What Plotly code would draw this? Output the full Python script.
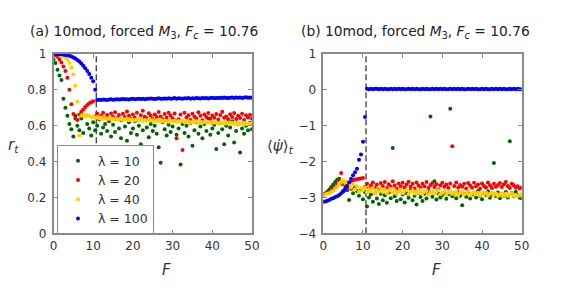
import plotly.graph_objects as go

# Forcing amplitude grid (shared by all series)
F = [0.0, 0.5, 1.0, 1.5, 2.0, 2.5, 3.0, 3.5, 4.0, 4.5,
     5.0, 5.5, 6.0, 6.5, 7.0, 7.5, 8.0, 8.5, 9.0, 9.5,
     10.0, 10.5, 11.0, 11.5, 12.0, 12.5, 13.0, 13.5, 14.0, 14.5,
     15.0, 15.5, 16.0, 16.5, 17.0, 17.5, 18.0, 18.5, 19.0, 19.5,
     20.0, 20.5, 21.0, 21.5, 22.0, 22.5, 23.0, 23.5, 24.0, 24.5,
     25.0, 25.5, 26.0, 26.5, 27.0, 27.5, 28.0, 28.5, 29.0, 29.5,
     30.0, 30.5, 31.0, 31.5, 32.0, 32.5, 33.0, 33.5, 34.0, 34.5,
     35.0, 35.5, 36.0, 36.5, 37.0, 37.5, 38.0, 38.5, 39.0, 39.5,
     40.0, 40.5, 41.0, 41.5, 42.0, 42.5, 43.0, 43.5, 44.0, 44.5,
     45.0, 45.5, 46.0, 46.5, 47.0, 47.5, 48.0, 48.5, 49.0, 49.5,
     50.0]

F_c = 10.76
labels = ["λ = 10", "λ = 20", "λ = 40", "λ = 100"]
colors = ["#006400", "#ff0000", "#ffd000", "#0000ff"]

# (a) order parameter r_t
r_l10 = [0.970, 0.950, 0.912, 0.880, 0.855, 0.750, 0.700, 0.655, 0.610, 0.580,
         0.540, 0.655, 0.600, 0.575, 0.640, 0.560, 0.470, 0.610, 0.585, 0.545,
         0.620, 0.575, 0.600, 0.635, 0.555, 0.590, 0.610, 0.570, 0.625, 0.540,
         0.605, 0.565, 0.640, 0.585, 0.530, 0.440, 0.595, 0.516, 0.620, 0.560,
         0.585, 0.625, 0.550, 0.600, 0.496, 0.575, 0.645, 0.590, 0.535, 0.610,
         0.570, 0.600, 0.555, 0.480, 0.393, 0.620, 0.580, 0.545, 0.605, 0.565,
         0.595, 0.630, 0.550, 0.585, 0.384, 0.610, 0.560, 0.600, 0.540, 0.615,
         0.488, 0.575, 0.620, 0.555, 0.595, 0.530, 0.610, 0.570, 0.640, 0.550,
         0.585, 0.605, 0.470, 0.560, 0.615, 0.580, 0.496, 0.600, 0.545, 0.590,
         0.625, 0.507, 0.570, 0.610, 0.450, 0.585, 0.555, 0.600, 0.575, 0.615,
         0.580]
r_l20 = [0.998, 0.993, 0.984, 0.970, 0.952, 0.930, 0.905, 0.868, 0.800, 0.720,
         0.665, 0.640, 0.632, 0.662, 0.678, 0.690, 0.705, 0.716, 0.725, 0.731,
         0.736, 0.652, 0.668, 0.640, 0.655, 0.672, 0.645, 0.660, 0.637, 0.668,
         0.650, 0.675, 0.642, 0.660, 0.631, 0.667, 0.648, 0.680, 0.655, 0.638,
         0.662, 0.645, 0.672, 0.633, 0.658, 0.684, 0.650, 0.641, 0.669, 0.655,
         0.637, 0.663, 0.648, 0.676, 0.652, 0.634, 0.666, 0.645, 0.672, 0.657,
         0.641, 0.668, 0.530, 0.636, 0.662, 0.464, 0.673, 0.646, 0.658, 0.632,
         0.667, 0.650, 0.640, 0.675, 0.655, 0.630, 0.662, 0.648, 0.671, 0.639,
         0.657, 0.644, 0.666, 0.634, 0.660, 0.678, 0.645, 0.652, 0.636, 0.664,
         0.649, 0.671, 0.638, 0.655, 0.643, 0.667, 0.632, 0.658, 0.646, 0.661,
         0.640]
r_l40 = [1.000, 0.999, 0.998, 0.996, 0.993, 0.988, 0.980, 0.968, 0.950, 0.925,
         0.885, 0.825, 0.735, 0.545, 0.655, 0.662, 0.650, 0.660, 0.655, 0.648,
         0.650, 0.644, 0.648, 0.640, 0.646, 0.638, 0.643, 0.637, 0.642, 0.636,
         0.640, 0.634, 0.639, 0.632, 0.637, 0.631, 0.636, 0.640, 0.630, 0.635,
         0.633, 0.629, 0.636, 0.630, 0.634, 0.627, 0.632, 0.628, 0.635, 0.629,
         0.631, 0.625, 0.630, 0.627, 0.633, 0.624, 0.629, 0.626, 0.622, 0.628,
         0.625, 0.629, 0.621, 0.627, 0.623, 0.628, 0.620, 0.625, 0.622, 0.618,
         0.624, 0.619, 0.625, 0.617, 0.622, 0.618, 0.623, 0.616, 0.620, 0.615,
         0.621, 0.616, 0.619, 0.613, 0.618, 0.614, 0.620, 0.612, 0.617, 0.613,
         0.616, 0.611, 0.615, 0.609, 0.614, 0.610, 0.616, 0.608, 0.613, 0.609,
         0.611]
r_l100 = [1.000, 1.000, 0.999, 0.999, 0.998, 0.997, 0.995, 0.993, 0.990, 0.986,
          0.981, 0.975, 0.967, 0.958, 0.947, 0.935, 0.920, 0.905, 0.888, 0.868,
          0.848, 0.800, 0.744, 0.745, 0.743, 0.746, 0.745, 0.744, 0.746, 0.747,
          0.745, 0.746, 0.748, 0.746, 0.747, 0.749, 0.747, 0.748, 0.746, 0.749,
          0.750, 0.748, 0.749, 0.751, 0.749, 0.750, 0.748, 0.751, 0.750, 0.752,
          0.750, 0.749, 0.751, 0.753, 0.751, 0.750, 0.752, 0.751, 0.753, 0.750,
          0.752, 0.754, 0.751, 0.753, 0.752, 0.750, 0.753, 0.752, 0.754, 0.751,
          0.753, 0.752, 0.755, 0.753, 0.752, 0.754, 0.753, 0.755, 0.752, 0.754,
          0.756, 0.753, 0.755, 0.754, 0.756, 0.754, 0.757, 0.755, 0.754, 0.756,
          0.758, 0.755, 0.757, 0.756, 0.758, 0.755, 0.757, 0.759, 0.756, 0.757,
          0.756]

# (b) mean phase velocity <psi_dot>_t
p_l10 = [-2.92, -2.89, -2.84, -2.78, -2.71, -2.64, -2.57, -2.51, -2.48, -2.62,
         -2.84, -2.66, -2.80, -3.07, -2.76, -2.88, -2.72, -2.82, -2.95, -2.78,
         -3.05, -2.85, -3.25, -3.00, -2.92, -3.12, -2.88, -3.03, -3.18, -2.90,
         -3.08, -2.94, -3.15, -2.86, -3.02, -1.62, -2.97, -3.10, -2.83, -3.05,
         -2.92, -3.14, -2.88, -3.01, -2.79, -3.08, -2.95, -3.20, -2.87, -2.99,
         -3.10, -2.90, -3.03, -2.84, -0.74, -2.98, -2.55, -3.06, -2.89, -3.00,
         -2.93, -2.86, -3.04, -2.91, -0.53, -2.97, -2.88, -3.02, -2.85, -2.95,
         -3.22, -2.90, -2.98, -2.84, -3.03, -2.92, -2.87, -3.00, -2.82, -2.96,
         -3.05, -2.89, -2.94, -2.83, -3.01, -2.91, -2.04, -2.97, -2.86, -3.02,
         -2.90, -2.95, -2.85, -3.00, -1.43, -2.88, -2.96, -2.84, -2.93, -3.01,
         -3.02]
p_l20 = [-2.91, -2.90, -2.88, -2.85, -2.82, -2.78, -2.72, -2.64, -2.52, -2.32,
         -2.62, -2.80, -2.72, -2.58, -2.55, -2.52, -2.50, -2.49, -2.48, -2.47,
         -2.46, -2.70, -2.62, -2.75, -2.66, -2.58, -2.72, -2.64, -2.78, -2.60,
         -2.68, -2.57, -2.74, -2.63, -2.70, -2.55, -2.66, -2.76, -2.61, -2.69,
         -2.59, -2.72, -2.64, -2.56, -2.70, -2.62, -2.75, -2.58, -2.67, -2.73,
         -2.62, -2.69, -2.57, -2.74, -2.65, -2.60, -2.71, -2.63, -2.77, -2.66,
         -2.59, -2.70, -2.64, -2.73, -2.61, -1.57, -2.68, -2.58, -2.72, -2.65,
         -2.70, -2.62, -2.75, -2.60, -2.67, -2.73, -2.59, -2.69, -2.64, -2.76,
         -2.61, -2.68, -2.72, -2.58, -2.66, -2.74, -2.62, -2.70, -2.65, -2.60,
         -2.71, -2.63, -2.57, -2.68, -2.74, -2.62, -2.66, -2.72, -2.69, -2.75,
         -2.72]
p_l40 = [-2.93, -2.92, -2.90, -2.88, -2.85, -2.81, -2.76, -2.70, -2.63, -2.57,
         -2.52, -2.60, -2.56, -2.66, -2.72, -2.63, -2.78, -2.69, -2.84, -2.74,
         -2.80, -2.72, -2.86, -2.77, -2.83, -2.74, -2.88, -2.79, -2.84, -2.76,
         -2.85, -2.78, -2.89, -2.81, -2.76, -2.87, -2.80, -2.90, -2.83, -2.78,
         -2.88, -2.82, -2.79, -2.91, -2.84, -2.80, -2.89, -2.83, -2.86, -2.79,
         -2.90, -2.84, -2.81, -2.92, -2.86, -2.83, -2.89, -2.85, -2.80, -2.91,
         -2.87, -2.83, -2.93, -2.86, -2.82, -2.90, -2.88, -2.84, -2.93, -2.87,
         -2.85, -2.92, -2.88, -2.83, -2.94, -2.89, -2.86, -2.91, -2.87, -2.95,
         -2.88, -2.92, -2.86, -2.95, -2.90, -2.87, -2.93, -2.89, -2.96, -2.91,
         -2.88, -2.94, -2.90, -2.96, -2.92, -2.89, -2.95, -2.93, -2.97, -2.91,
         -2.94]
p_l100 = [-3.12, -3.11, -3.09, -3.07, -3.04, -3.02, -2.99, -2.97, -2.93, -2.88,
          -2.82, -2.76, -2.68, -2.58, -2.48, -2.38, -2.30, -2.20, -1.95, -1.80,
          -1.45, -0.76, 0.03, 0.02, 0.03, 0.02, 0.03, 0.03, 0.02, 0.03,
          0.02, 0.03, 0.02, 0.02, 0.03, 0.02, 0.03, 0.02, 0.03, 0.02,
          0.03, 0.02, 0.02, 0.03, 0.02, 0.03, 0.02, 0.03, 0.02, 0.02,
          0.03, 0.02, 0.03, 0.02, 0.02, 0.03, 0.02, 0.03, 0.02, 0.03,
          0.02, 0.03, 0.02, 0.02, 0.03, 0.02, 0.03, 0.02, 0.03, 0.02,
          0.03, 0.02, 0.02, 0.03, 0.02, 0.03, 0.02, 0.03, 0.02, 0.02,
          0.03, 0.02, 0.03, 0.02, 0.02, 0.03, 0.02, 0.03, 0.02, 0.03,
          0.02, 0.03, 0.02, 0.02, 0.03, 0.02, 0.03, 0.02, 0.03, 0.02,
          0.02]

r_series = [r_l10, r_l20, r_l40, r_l100]
p_series = [p_l10, p_l20, p_l40, p_l100]
for s in r_series + p_series:
    assert len(s) == len(F), len(s)

fig = go.Figure()
for i in range(4):
    fig.add_trace(go.Scatter(x=F, y=r_series[i], mode="markers", name=labels[i],
                             marker=dict(color=colors[i], size=4, line=dict(width=0)),
                             xaxis="x", yaxis="y", showlegend=True))
for i in range(4):
    fig.add_trace(go.Scatter(x=F, y=p_series[i], mode="markers", name=labels[i],
                             marker=dict(color=colors[i], size=4, line=dict(width=0)),
                             xaxis="x2", yaxis="y2", showlegend=False))

W, H = 576, 288
def px(x):
    return x / W
def py(y):
    return 1 - y / H

frame = "#8a8a8a"
tickfont = dict(family="DejaVu Sans", size=12, color="#333333")
axis_common = dict(showline=True, linecolor=frame, linewidth=1.5, mirror="ticks",
                   ticks="inside", ticklen=4, tickwidth=1, tickcolor=frame,
                   showgrid=False, zeroline=False, tickfont=tickfont, automargin=False)

fig.update_layout(
    width=W, height=H, autosize=False,
    margin=dict(l=0, r=0, t=0, b=0, autoexpand=False),
    paper_bgcolor="white", plot_bgcolor="white",
    xaxis=dict(domain=[px(53.5), px(252)], range=[0, 50], tickvals=[0, 10, 20, 30, 40, 50],
               anchor="y", ticklabelstandoff=1, **axis_common),
    yaxis=dict(domain=[py(233.3), py(54)], range=[0, 1],
               tickvals=[0, 0.2, 0.4, 0.6, 0.8, 1], ticktext=["0", "0.2", "0.4", "0.6", "0.8", "1"],
               anchor="x", ticklabelstandoff=3, **axis_common),
    xaxis2=dict(domain=[px(323.3), px(521.7)], range=[0, 50], tickvals=[0, 10, 20, 30, 40, 50],
                anchor="y2", ticklabelstandoff=1, **axis_common),
    yaxis2=dict(domain=[py(233.3), py(54)], range=[-4, 1], tickvals=[-4, -3, -2, -1, 0, 1],
                anchor="x2", ticklabelstandoff=3, **axis_common),
    legend=dict(x=px(57), y=py(145), xanchor="left", yanchor="top",
                bgcolor="white", bordercolor=frame, borderwidth=1,
                font=dict(family="DejaVu Sans", size=12.5, color="#333333"),
                itemsizing="trace", itemwidth=30, tracegroupgap=0),
    showlegend=True,
)

for xr in ["x", "x2"]:
    yr = "y" if xr == "x" else "y2"
    fig.add_shape(type="line", xref=xr, yref=yr + " domain", x0=F_c, x1=F_c, y0=0, y1=1,
                  line=dict(color="black", width=1, dash="6px,3px"), layer="below")

titlefont = dict(family="DejaVu Sans", size=13.8, color="#222222")
fig.add_annotation(text="(a) 10mod, forced <i>M</i><sub>3</sub>, <i>F<sub>c</sub></i> = 10.76",
                   xref="paper", yref="paper", x=px(144), y=py(32), showarrow=False,
                   xanchor="center", yanchor="middle", font=titlefont)
fig.add_annotation(text="(b) 10mod, forced <i>M</i><sub>3</sub>, <i>F<sub>c</sub></i> = 10.76",
                   xref="paper", yref="paper", x=px(415), y=py(32), showarrow=False,
                   xanchor="center", yanchor="middle", font=titlefont)
labfont = dict(family="DejaVu Sans", size=15, color="#333333")
fig.add_annotation(text="<i>F</i>", xref="paper", yref="paper", x=px(166), y=py(270),
                   showarrow=False, xanchor="center", yanchor="middle", font=labfont)
fig.add_annotation(text="<i>F</i>", xref="paper", yref="paper", x=px(436), y=py(270),
                   showarrow=False, xanchor="center", yanchor="middle", font=labfont)
fig.add_annotation(text="<i>r<sub>t</sub></i>", xref="paper", yref="paper", x=px(13), y=py(145),
                   showarrow=False, xanchor="center", yanchor="middle", font=labfont)
fig.add_annotation(text="⟨<i>ψ̇</i>⟩<sub><i>t</i></sub>", xref="paper", yref="paper", x=px(280), y=py(146),
                   showarrow=False, xanchor="center", yanchor="middle", font=labfont)

fig.write_html("out.html", config={"displayModeBar": False},
               post_script="document.body.style.margin='0';")
